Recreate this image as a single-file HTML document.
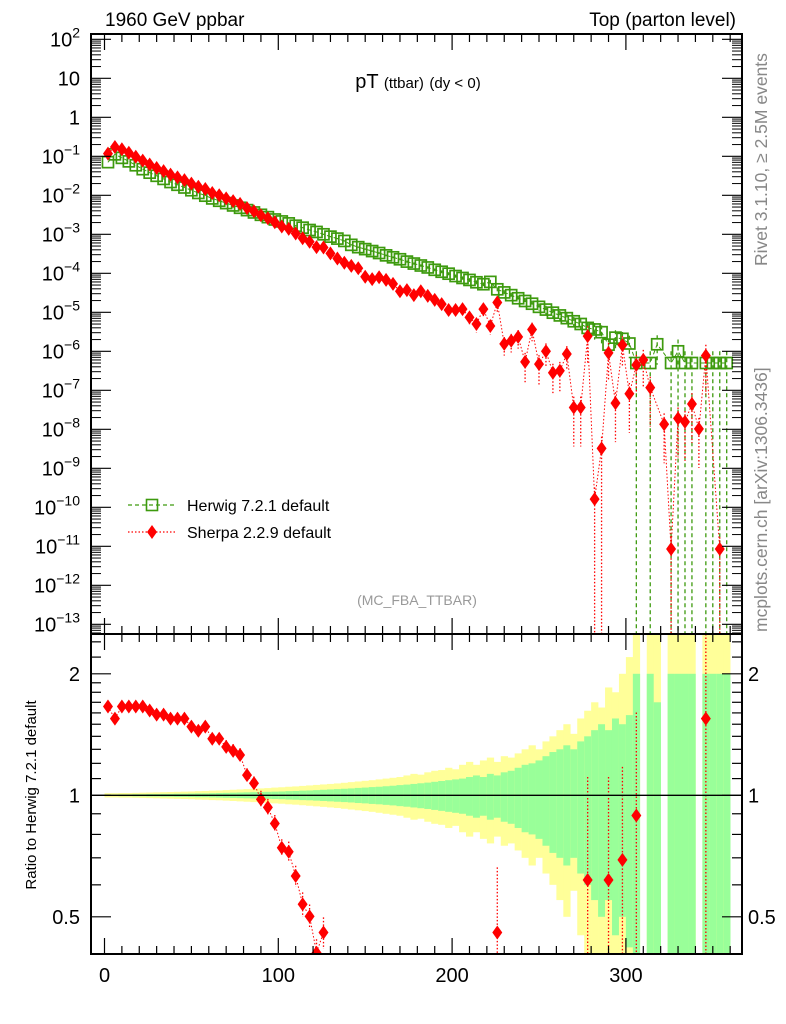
<!DOCTYPE html>
<html><head><meta charset="utf-8">
<style>
html,body{margin:0;padding:0;background:#fff;width:786px;height:1024px;overflow:hidden;position:relative;}
svg{display:block;position:absolute;left:0;top:0;overflow:hidden;font-family:"Liberation Sans",sans-serif;}
</style></head>
<body>
<svg id="chart" width="786" height="1024" viewBox="0 0 786 1024" xmlns="http://www.w3.org/2000/svg">
<defs>
<clipPath id="cm"><rect x="91" y="34" width="651" height="600"/></clipPath>
<clipPath id="cr"><rect x="91" y="634" width="651" height="320"/></clipPath>
</defs>
<g id="bands" clip-path="url(#cr)"></g>
<g id="marks"></g>
<g id="axes"></g>
<rect x="91" y="34" width="651" height="600" fill="none" stroke="#000" stroke-width="2"/>
<rect x="91" y="634" width="651" height="320" fill="none" stroke="#000" stroke-width="2"/>
<text x="105" y="26" font-size="19">1960 GeV ppbar</text>
<text x="736" y="26" font-size="19" text-anchor="end">Top (parton level)</text>
<text x="418" y="88" font-size="20" text-anchor="middle">pT <tspan font-size="15">(ttbar)</tspan> <tspan font-size="15">(dy &lt; 0)</tspan></text>
<text x="417" y="605" font-size="14" fill="#999" text-anchor="middle">(MC_FBA_TTBAR)</text>
<text transform="translate(767,266) rotate(-90)" font-size="17.5" fill="#888">Rivet 3.1.10, ≥ 2.5M events</text>
<text transform="translate(767,632) rotate(-90)" font-size="17.5" fill="#888">mcplots.cern.ch [arXiv:1306.3436]</text>
<text transform="translate(36,795) rotate(-90)" font-size="15" text-anchor="middle">Ratio to Herwig 7.2.1 default</text>
<g>
<g>
<line x1="128" y1="505" x2="176" y2="505" stroke="#3d9a0e" stroke-width="1.3" stroke-dasharray="4,3"/>
<rect x="146.5" y="499.5" width="11" height="11" fill="none" stroke="#3d9a0e" stroke-width="1.6"/>
<text x="187" y="511" font-size="16">Herwig 7.2.1 default</text>
</g>
<g>
<line x1="128" y1="532" x2="176" y2="532" stroke="#f00" stroke-width="1.3" stroke-dasharray="1.5,2"/>
<path d="M152 525 L157 532 L152 539 L147 532 Z" fill="#f00"/>
<text x="187" y="538" font-size="16">Sherpa 2.2.9 default</text>
</g>
</g>
</svg>
<script>
// bins: 4 GeV wide from 0 to 360
const binCenters = [2,6,10,14,18,22,26,30,34,38,42,46,50,54,58,62,66,70,74,78,82,86,90,94,98,102,106,110,114,118,122,126,130,134,138,142,146,150,154,158,162,166,170,174,178,182,186,190,194,198,202,206,210,214,218,222,226,230,234,238,242,246,250,254,258,262,266,270,274,278,282,286,290,294,298,302,306,310,314,318,322,326,330,334,338,342,346,350,354,358];
// log10 of dsigma values
const herwigLog = [-1.15,-0.95,-1.04,-1.13,-1.23,-1.33,-1.42,-1.50,-1.58,-1.66,-1.73,-1.80,-1.87,-1.94,-2.01,-2.08,-2.14,-2.20,-2.26,-2.32,-2.38,-2.44,-2.50,-2.56,-2.62,-2.67,-2.72,-2.78,-2.83,-2.89,-2.94,-3.00,-3.06,-3.11,-3.17,-3.27,-3.33,-3.38,-3.43,-3.48,-3.54,-3.59,-3.64,-3.70,-3.75,-3.80,-3.85,-3.91,-3.96,-4.01,-4.07,-4.12,-4.17,-4.23,-4.28,-4.22,-4.41,-4.49,-4.56,-4.64,-4.71,-4.78,-4.86,-4.93,-5.01,-5.08,-5.15,-5.23,-5.30,-5.40,-5.44,-5.51,-5.83,-5.65,-5.68,-5.80,-6.30,null,-6.30,-5.82,null,-6.30,-6.00,-6.30,-6.30,null,-6.30,-6.30,-6.30,-6.30];
const sherpaLog = [-0.93,-0.76,-0.82,-0.91,-1.01,-1.11,-1.21,-1.30,-1.38,-1.47,-1.54,-1.61,-1.70,-1.78,-1.84,-1.94,-2.00,-2.08,-2.15,-2.22,-2.33,-2.41,-2.51,-2.59,-2.69,-2.80,-2.86,-2.98,-3.10,-3.19,-3.33,-3.34,-3.49,-3.62,-3.73,-3.81,-3.87,-4.09,-4.15,-4.10,-4.17,-4.27,-4.46,-4.43,-4.56,-4.46,-4.58,-4.68,-4.79,-4.94,-4.94,-4.92,-5.13,-5.30,-4.92,-5.35,-4.75,-5.81,-5.73,-5.63,-6.27,-5.44,-6.33,-6.00,-6.55,-6.50,-6.07,-7.44,-7.44,-5.61,-9.79,-8.49,-6.04,-7.33,-5.84,-7.09,-6.35,-6.22,-6.93,null,-7.87,-11.07,-7.72,-7.81,-7.35,-7.99,-6.11,null,-11.07,null];
// relative uncertainties
const herwigStatErr = [0.004,0.004,0.005,0.005,0.006,0.006,0.007,0.007,0.008,0.008,0.009,0.009,0.010,0.011,0.011,0.012,0.013,0.014,0.015,0.016,0.017,0.018,0.019,0.020,0.021,0.022,0.024,0.025,0.027,0.028,0.030,0.032,0.034,0.036,0.038,0.040,0.043,0.045,0.048,0.050,0.053,0.056,0.060,0.063,0.067,0.071,0.075,0.080,0.085,0.090,0.095,0.10,0.11,0.12,0.11,0.13,0.12,0.14,0.15,0.17,0.19,0.20,0.22,0.25,0.28,0.30,0.33,0.30,0.36,0.40,0.45,0.50,0.45,0.55,0.50,0.58,1,null,1,0.7,null,1,1,1,1,null,1,1,1,1];
const herwigTotErr = [0.012,0.012,0.013,0.013,0.014,0.015,0.016,0.017,0.018,0.019,0.020,0.021,0.022,0.024,0.025,0.027,0.028,0.030,0.032,0.034,0.036,0.038,0.040,0.042,0.045,0.047,0.050,0.052,0.055,0.058,0.061,0.064,0.067,0.070,0.074,0.078,0.082,0.086,0.090,0.095,0.10,0.105,0.11,0.12,0.13,0.125,0.14,0.15,0.155,0.17,0.16,0.19,0.21,0.19,0.22,0.24,0.21,0.25,0.24,0.27,0.30,0.33,0.30,0.36,0.40,0.45,0.50,0.42,0.55,0.62,0.70,0.65,0.85,0.80,1.0,1.2,2,null,2,1.5,null,2,2,2,2,null,2,2,2,2];
const sherpaErr = [0.02,0.02,0.02,0.02,0.02,0.02,0.02,0.02,0.02,0.03,0.03,0.03,0.03,0.03,0.03,0.03,0.03,0.04,0.04,0.04,0.04,0.04,0.05,0.05,0.05,0.05,0.06,0.06,0.07,0.07,0.08,0.09,0.1,0.1,0.1,0.12,0.12,0.14,0.14,0.14,0.15,0.16,0.18,0.18,0.2,0.2,0.22,0.25,0.25,0.3,0.3,0.3,0.35,0.4,0.35,0.4,0.45,0.5,0.5,0.5,0.7,0.5,0.7,0.6,0.7,0.7,0.6,0.9,0.9,0.8,1,1,0.8,0.9,0.7,0.9,0.8,0.8,0.9,null,0.9,1,0.9,0.9,0.9,0.9,0.9,null,1,null];
const xTicks = [0,100,200,300];
const yDecades = [2,1,0,-1,-2,-3,-4,-5,-6,-7,-8,-9,-10,-11,-12,-13];
const ratioTicks = [0.5,1,2];

const NS = "http://www.w3.org/2000/svg";
const X = v => 104.5 + 1.738 * v;
const YM = l => 117.3 - 39 * l;
const YR = r => 795.3 - 121.5 * Math.log2(r);
const BW = 4;
const clampM = y => Math.max(34, Math.min(634, y));
const clampR = y => Math.max(634, Math.min(954, y));
function mk(tag, attrs, parent){const e=document.createElementNS(NS,tag);for(const k in attrs)e.setAttribute(k,attrs[k]);parent.appendChild(e);return e;}
const bands=document.getElementById('bands'), marks=document.getElementById('marks'), axes=document.getElementById('axes');
const gm=mk('g',{'clip-path':'url(#cm)'},marks);
const gr=mk('g',{'clip-path':'url(#cr)'},marks);

binCenters.forEach((c,i)=>{
  if(herwigLog[i]===null) return;
  const x0=X(c-BW/2), w=X(c+BW/2)-x0;
  const ty=herwigTotErr[i], st=herwigStatErr[i];
  const y1=clampR(YR(1+ty)), y2=ty>=1?954:clampR(YR(1-ty));
  const by=mk('rect',{x:x0,y:y1,width:w+0.3,height:y2-y1,fill:'#ffff99'},bands);
  
  
  const s1=clampR(YR(1+st)), s2=st>=1?954:clampR(YR(1-st));
  const bg=mk('rect',{x:x0,y:s1,width:w+0.3,height:s2-s1,fill:'#99ff99'},bands);
  
  
});
const l1=mk('line',{x1:91,x2:742,y1:YR(1),y2:YR(1),stroke:'#000','stroke-width':1.3},marks);



let hp=[];
binCenters.forEach((c,i)=>{
  const v=herwigLog[i]; if(v===null) return;
  const x=X(c), y=YM(v);
  hp.push(x+','+y);
  const e=herwigStatErr[i];
  const yl=e>=1?634:clampM(YM(v+Math.log10(1-e))), yu=clampM(YM(v+Math.log10(1+e)));
  mk('line',{x1:x,x2:x,y1:yu,y2:yl,stroke:'#3d9a0e','stroke-width':1.3,'stroke-dasharray':'4,3'},gm);
  const s=mk('rect',{x:x-5.5,y:y-5.5,width:11,height:11,fill:'none',stroke:'#3d9a0e','stroke-width':1.7},gm);
  
  
});
mk('polyline',{points:hp.join(' '),fill:'none',stroke:'#3d9a0e','stroke-width':1,'stroke-dasharray':'4,3'},gm);

let sp=[], rpSegs=[], rp=[];
binCenters.forEach((c,i)=>{
  const v=sherpaLog[i]; if(v===null) return;
  const x=X(c), y=YM(v);
  sp.push(x+','+y);
  const e=sherpaErr[i];
  const yl=e>=1?634:clampM(YM(v+Math.log10(1-e))), yu=clampM(YM(v+Math.log10(1+e)));
  mk('line',{x1:x,x2:x,y1:yu,y2:yl,stroke:'#f00','stroke-width':1.3,'stroke-dasharray':'1.5,2'},gm);
  const d=mk('path',{d:`M${x} ${y-7} L${x+5} ${y} L${x} ${y+7} L${x-5} ${y} Z`,fill:'#f00'},gm);
  
  
  const h=herwigLog[i]; if(h===null) return;
  const r=Math.pow(10,v-h), ry=YR(r);
  if(ry<627 || ry>961){ if(rp.length){rpSegs.push(rp); rp=[];} return; }
  rp.push(x+','+ry);
  const ryl=e>=1?954:clampR(YR(r*(1-e))), ryu=clampR(YR(r*(1+e)));
  mk('line',{x1:x,x2:x,y1:ryu,y2:ryl,stroke:'#f00','stroke-width':1.3,'stroke-dasharray':'1.5,2'},gr);
  const rd=mk('path',{d:`M${x} ${ry-7} L${x+5} ${ry} L${x} ${ry+7} L${x-5} ${ry} Z`,fill:'#f00'},gr);
  
  
});
if(rp.length) rpSegs.push(rp);
mk('polyline',{points:sp.join(' '),fill:'none',stroke:'#f00','stroke-width':1,'stroke-dasharray':'1.5,2'},gm);
rpSegs.forEach(seg=>mk('polyline',{points:seg.join(' '),fill:'none',stroke:'#f00','stroke-width':1,'stroke-dasharray':'1.5,2'},gr));

for(let v=0; v<=360; v+=10){
  const x=X(v), maj=v%100===0, L=maj?16:8;
  [[634,-1],[954,-1],[34,1],[634,1]].forEach(([y0,dir])=>{
    mk('line',{x1:x,x2:x,y1:y0,y2:y0+dir*L,stroke:'#000','stroke-width':1.2},axes);
  });
}
xTicks.forEach(v=>{
  const t=mk('text',{x:X(v),y:982,'font-size':20,'text-anchor':'middle'},axes);
  t.textContent=v;
  
  
});
yDecades.forEach(d=>{
  const y=YM(d);
  [[91,1],[742,-1]].forEach(([x0,dir])=>{
    mk('line',{x1:x0,x2:x0+dir*20,y1:y,y2:y,stroke:'#000','stroke-width':1.2},axes);
    for(let k=2;k<10;k++){const yy=YM(d+Math.log10(k)); if(yy<35) continue;
      mk('line',{x1:x0,x2:x0+dir*10,y1:yy,y2:yy,stroke:'#000','stroke-width':1},axes);}
    if(d===-13){for(let k=2;k<10;k++){const yy=YM(d-1+Math.log10(k)); if(yy>633) continue;
      mk('line',{x1:x0,x2:x0+dir*10,y1:yy,y2:yy,stroke:'#000','stroke-width':1},axes);}}
  });
  const t=mk('text',{x:80,y:y+7,'font-size':20,'text-anchor':'end'},axes);
  
  
  if(d===1) t.textContent='10';
  else if(d===0) t.textContent='1';
  else { t.textContent='10'; const s=mk('tspan',{dy:-9,'font-size':14},t); s.textContent=String(d).replace('-','\u2212'); }
});
[0.4,0.5,0.6,0.7,0.8,0.9,1,1.1,1.2,1.3,1.4,1.5,1.6,1.7,1.8,1.9,2,2.2,2.4].forEach(r=>{
  const y=YR(r), maj=ratioTicks.includes(r);
  if(y<634||y>954) return;
  [[91,1],[742,-1]].forEach(([x0,dir])=>mk('line',{x1:x0,x2:x0+dir*(maj?20:10),y1:y,y2:y,stroke:'#000','stroke-width':1.2},axes));
});
ratioTicks.forEach(r=>{
  const t1=mk('text',{x:80,y:YR(r)+7,'font-size':20,'text-anchor':'end'},axes);
  t1.textContent=r;
  
  
  const t2=mk('text',{x:748,y:YR(r)+7,'font-size':20},axes);
  t2.textContent=r;
  
  
});
</script>
</body></html>
